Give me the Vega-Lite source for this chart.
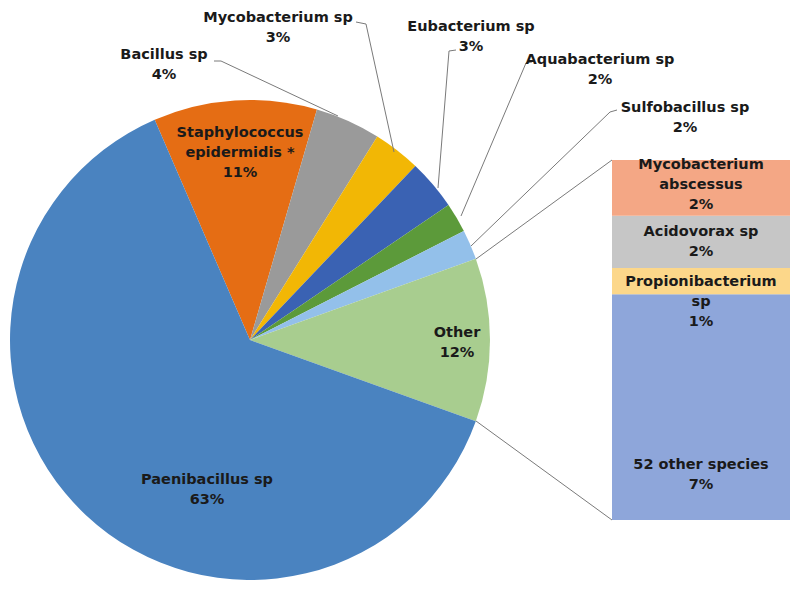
{
  "$schema": "https://vega.github.io/schema/vega-lite/v6.json",
  "width": 800,
  "height": 593,
  "padding": 0,
  "autosize": {"type": "fit", "contains": "padding"},
  "background": "white",
  "config": {"view": {"stroke": null}},
  "datasets": {
    "slices": [
      {"name": "Staphylococcus epidermidis *", "pct": 11, "ord": 1},
      {"name": "Bacillus sp", "pct": 4.4, "ord": 2},
      {"name": "Mycobacterium sp", "pct": 3.2, "ord": 3},
      {"name": "Eubacterium sp", "pct": 3.4, "ord": 4},
      {"name": "Aquabacterium sp", "pct": 2.0, "ord": 5},
      {"name": "Sulfobacillus sp", "pct": 2.0, "ord": 6},
      {"name": "Other", "pct": 11.0, "ord": 7},
      {"name": "Paenibacillus sp", "pct": 63.0, "ord": 8}
    ],
    "segments": [
      {"name": "52 other species", "pct": 6.9, "ord": 1},
      {"name": "Propionibacterium sp", "pct": 0.8, "ord": 2},
      {"name": "Acidovorax sp", "pct": 1.6, "ord": 3},
      {"name": "Mycobacterium abscessus", "pct": 1.7, "ord": 4}
    ],
    "labels": [
      {"lines": ["Staphylococcus", "epidermidis *", "11%"], "lx": 240, "ly": 133},
      {"lines": ["Bacillus sp", "4%"], "lx": 164, "ly": 55},
      {"lines": ["Mycobacterium sp", "3%"], "lx": 278, "ly": 18},
      {"lines": ["Eubacterium sp", "3%"], "lx": 471, "ly": 27},
      {"lines": ["Aquabacterium sp", "2%"], "lx": 600, "ly": 60},
      {"lines": ["Sulfobacillus sp", "2%"], "lx": 685, "ly": 108},
      {"lines": ["Other", "12%"], "lx": 457, "ly": 333},
      {"lines": ["Paenibacillus sp", "63%"], "lx": 207, "ly": 480},
      {"lines": ["Mycobacterium", "abscessus", "2%"], "lx": 701, "ly": 165},
      {"lines": ["Acidovorax sp", "2%"], "lx": 701, "ly": 232},
      {"lines": ["Propionibacterium", "sp", "1%"], "lx": 701, "ly": 282},
      {"lines": ["52 other species", "7%"], "lx": 701, "ly": 465}
    ],
    "leaders": [
      {"id": "bac", "k": 1, "px": 214, "py": 61},
      {"id": "bac", "k": 2, "px": 221, "py": 61},
      {"id": "bac", "k": 3, "px": 338, "py": 116},
      {"id": "myc", "k": 1, "px": 356, "py": 22},
      {"id": "myc", "k": 2, "px": 366, "py": 24},
      {"id": "myc", "k": 3, "px": 394, "py": 152},
      {"id": "eub", "k": 1, "px": 456, "py": 50},
      {"id": "eub", "k": 2, "px": 449, "py": 51},
      {"id": "eub", "k": 3, "px": 438, "py": 188},
      {"id": "aqu", "k": 1, "px": 532, "py": 62},
      {"id": "aqu", "k": 2, "px": 526, "py": 63},
      {"id": "aqu", "k": 3, "px": 461, "py": 216},
      {"id": "sul", "k": 1, "px": 617, "py": 110},
      {"id": "sul", "k": 2, "px": 610, "py": 112},
      {"id": "sul", "k": 3, "px": 471, "py": 246},
      {"id": "c1", "k": 1, "px": 476, "py": 259},
      {"id": "c1", "k": 2, "px": 612, "py": 160},
      {"id": "c2", "k": 1, "px": 476, "py": 421},
      {"id": "c2", "k": 2, "px": 612, "py": 520}
    ]
  },
  "resolve": {"scale": {"y": "independent"}},
  "layer": [
    {
      "data": {"name": "slices"},
      "mark": {"type": "arc", "outerRadius": 240},
      "encoding": {
        "x": {"datum": 250, "type": "quantitative", "scale": {"domain": [0, 800], "nice": false, "zero": false}, "axis": null},
        "y": {"datum": 340, "type": "quantitative", "scale": {"domain": [0, 593], "nice": false, "zero": false, "reverse": true}, "axis": null},
        "theta": {"field": "pct", "type": "quantitative", "stack": true, "scale": {"range": [-0.4084, 5.8748]}},
        "order": {"field": "ord", "type": "quantitative"},
        "color": {
          "field": "name", "type": "nominal", "legend": null,
          "scale": {
            "domain": ["Staphylococcus epidermidis *", "Bacillus sp", "Mycobacterium sp", "Eubacterium sp", "Aquabacterium sp", "Sulfobacillus sp", "Other", "Paenibacillus sp", "52 other species", "Propionibacterium sp", "Acidovorax sp", "Mycobacterium abscessus"],
            "range": ["#e56d14", "#9a9a9a", "#f2b705", "#3a62b3", "#5c9a3a", "#93c0ea", "#a8cd8f", "#4a83c0", "#8ea6da", "#fcd78a", "#c6c6c6", "#f4a785"]
          }
        }
      }
    },
    {
      "data": {"name": "segments"},
      "transform": [
        {"stack": "pct", "groupby": [], "sort": [{"field": "ord", "order": "ascending"}], "as": ["s0", "s1"]}
      ],
      "mark": {"type": "rect"},
      "encoding": {
        "x": {"datum": 612, "type": "quantitative"},
        "x2": {"datum": 790},
        "y": {"field": "s0", "type": "quantitative", "scale": {"domain": [-2.2306, 15.8889], "nice": false, "zero": false}, "axis": null},
        "y2": {"field": "s1"},
        "color": {
          "field": "name", "type": "nominal", "legend": null,
          "scale": {
            "domain": ["Staphylococcus epidermidis *", "Bacillus sp", "Mycobacterium sp", "Eubacterium sp", "Aquabacterium sp", "Sulfobacillus sp", "Other", "Paenibacillus sp", "52 other species", "Propionibacterium sp", "Acidovorax sp", "Mycobacterium abscessus"],
            "range": ["#e56d14", "#9a9a9a", "#f2b705", "#3a62b3", "#5c9a3a", "#93c0ea", "#a8cd8f", "#4a83c0", "#8ea6da", "#fcd78a", "#c6c6c6", "#f4a785"]
          }
        }
      }
    },
    {
      "data": {"name": "leaders"},
      "mark": {"type": "line", "color": "#7a7a7a", "strokeWidth": 1},
      "encoding": {
        "x": {"field": "px", "type": "quantitative"},
        "y": {"field": "py", "type": "quantitative", "scale": {"domain": [0, 593], "nice": false, "zero": false, "reverse": true}, "axis": null},
        "detail": {"field": "id", "type": "nominal"},
        "order": {"field": "k", "type": "quantitative"}
      }
    },
    {
      "data": {"name": "labels"},
      "mark": {"type": "text", "font": "DejaVu Sans", "fontWeight": "bold", "fontSize": 14.5, "lineHeight": 20, "align": "center", "baseline": "middle", "color": "#1a1a1a"},
      "encoding": {
        "x": {"field": "lx", "type": "quantitative"},
        "y": {"field": "ly", "type": "quantitative", "scale": {"domain": [0, 593], "nice": false, "zero": false, "reverse": true}, "axis": null},
        "text": {"field": "lines", "type": "nominal"}
      }
    }
  ]
}
